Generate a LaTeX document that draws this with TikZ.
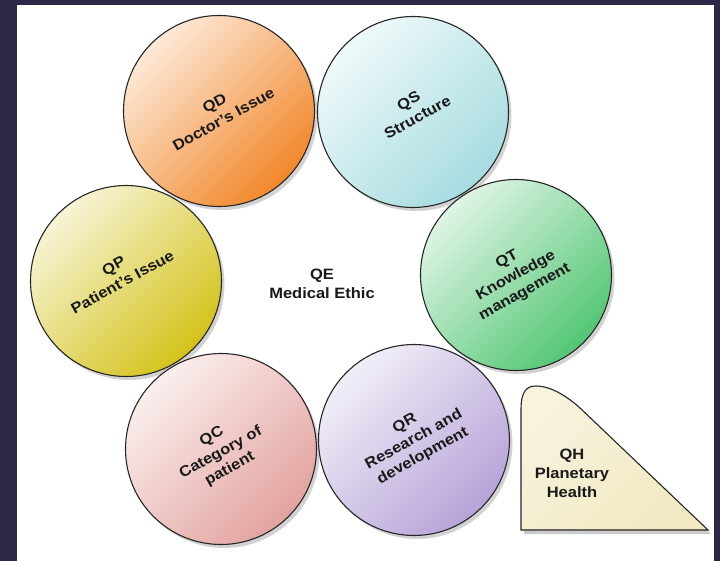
\documentclass[tikz,border=0pt]{standalone}
\usepackage{fontspec}
\setmainfont[FakeStretch=1.1]{Liberation Sans}
\usetikzlibrary{shadows}
\definecolor{framec}{HTML}{2D2847}
\definecolor{cqd}{HTML}{F2872A}
\definecolor{cqs}{HTML}{A6DCE0}
\definecolor{cqt}{HTML}{52C673}
\definecolor{cqp}{HTML}{D3C21A}
\definecolor{cqc}{HTML}{E3A39F}
\definecolor{cqr}{HTML}{B6A3D8}
\definecolor{cqh}{HTML}{F1E9C2}
\begin{document}
\begin{tikzpicture}[x=1pt,y=-1pt,
  bubble/.style={circle, minimum size=191pt, inner sep=0pt, draw=black!85, line width=1.1pt,
    top color=#1!18!white, bottom color=#1, shading angle=45,
    drop shadow={opacity=0.35, shadow xshift=3pt, shadow yshift=-3.5pt}},
  lbl/.style={font=\bfseries\fontsize{15}{18.5}\selectfont, align=center, text=black!90, rotate=29},
  plain/.style={font=\bfseries\fontsize{15}{19}\selectfont, align=center, text=black!90}
]
\useasboundingbox (0,0) rectangle (720,561);
\fill[framec] (0,0) rectangle (720,561);
\fill[white] (17,5) rectangle (714,561);

\node[bubble=cqd] (qd) at (219,111) {};
\node[bubble=cqs] (qs) at (413,112) {};
\node[bubble=cqt] (qt) at (516,275) {};
\node[bubble=cqp] (qp) at (126,281) {};
\node[bubble=cqc] (qc) at (221,449) {};
\node[bubble=cqr] (qr) at (414,440) {};

\node[lbl] (qdt) at (qd) {QD\\Doctor's Issue};
\node[lbl] (qst) at ([yshift=3pt]qs.center) {QS\\Structure};
\node[lbl] (qtt) at ([yshift=-1pt]qt.center) {QT\\Knowledge\\management};
\node[lbl] (qpt) at ([xshift=-8pt,yshift=7pt]qp.center) {QP\\Patient's Issue};
\node[lbl] (qct) at ([yshift=-4pt]qc.center) {QC\\Category of\\patient};
\node[lbl] (qrt) at (qr) {QR\\Research and\\development};

\node[plain] (qe) at (322,284) {QE\\Medical Ethic};

\path[draw=black!85, line width=1.1pt,
      top color=cqh!55!white, bottom color=cqh, shading angle=45,
      drop shadow={opacity=0.4, shadow xshift=3pt, shadow yshift=-4pt}]
  (521,530) -- (521,410) .. controls (521,392) and (526,386) .. (536,386)
  .. controls (552,386) and (569,398) .. (580,408) -- (708,530) -- cycle;
\node[plain] (qh) at (572,473) {QH\\Planetary\\Health};
\end{tikzpicture}
\end{document}
